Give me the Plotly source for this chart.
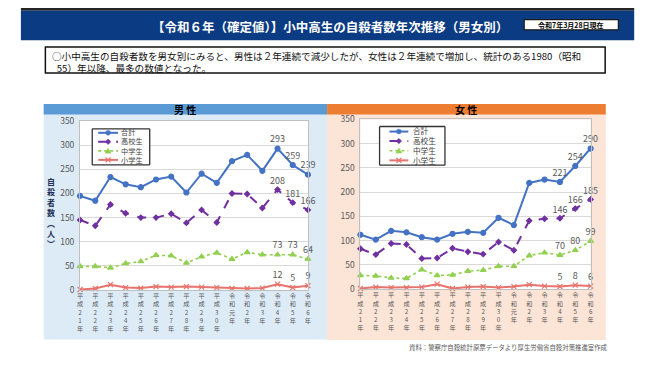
import plotly.graph_objects as go

W, H = 650, 366
OFF = 8  # default page body margin in the browser
FONT = "Noto Sans CJK JP"

years = ["平成21年", "平成22年", "平成23年", "平成24年", "平成25年", "平成26年", "平成27年",
         "平成28年", "平成29年", "平成30年", "令和元年", "令和2年", "令和3年", "令和4年",
         "令和5年", "令和6年"]
series_names = ["合計", "高校生", "中学生", "小学生"]

# 男性
total_m = [195, 185, 234, 219, 213, 229, 235, 202, 241, 222, 267, 280, 247, 293, 259, 239]
high_m = [145, 133, 177, 159, 150, 150, 158, 139, 166, 140, 200, 199, 170, 208, 181, 166]
mid_m = [49, 49, 46, 55, 59, 72, 71, 56, 69, 77, 64, 78, 73, 73, 73, 64]
elem_m = [1, 3, 11, 5, 4, 7, 6, 7, 6, 5, 3, 3, 4, 12, 5, 9]

# 女性
total_f = [112, 102, 120, 117, 107, 102, 114, 118, 116, 147, 132, 219, 226, 221, 254, 290]
high_f = [83, 71, 94, 92, 63, 64, 84, 77, 72, 97, 80, 141, 145, 146, 166, 185]
mid_f = [28, 27, 23, 22, 40, 28, 29, 37, 39, 47, 47, 69, 75, 70, 80, 99]
elem_f = [1, 4, 3, 3, 4, 10, 1, 4, 5, 3, 5, 9, 6, 5, 8, 6]

colors = ["#4472C4", "#7030A0", "#92D050", "#E8736C"]
dashes = ["solid", "dash", "dot", "solid"]
symbols = ["circle", "diamond", "triangle-up", "x-thin-open"]
msizes = [5, 4, 5, 5]
widths = [2, 2, 1.6, 2]


def px(x):
    return (x - OFF) / W


def py(y):
    return 1 - (y - OFF) / H


fig = go.Figure()

male = [total_m, high_m, mid_m, elem_m]
female = [total_f, high_f, mid_f, elem_f]
for vals_list, xa, ya in [(male, "x", "y"), (female, "x2", "y2")]:
    for k, vals in enumerate(vals_list):
        n = len(vals)
        labels = [str(v) if i >= n - 3 else "" for i, v in enumerate(vals)]
        fig.add_trace(go.Scatter(
            x=years, y=vals, name=series_names[k], xaxis=xa, yaxis=ya,
            mode="lines+markers+text", text=labels, textposition="top center",
            textfont=dict(family=FONT, size=9, color="#595959"),
            line=dict(color=colors[k], width=widths[k], dash=dashes[k]),
            marker=dict(color=colors[k], size=msizes[k], symbol=symbols[k],
                        line=dict(color=colors[k], width=1.2)),
            cliponaxis=False, showlegend=False, hoverinfo="skip"))

ticktext = ["<br>".join(list(s)) for s in years]

xcommon = dict(type="category", range=[0, len(years) - 1], tickvals=years, ticktext=ticktext,
               tickfont=dict(family=FONT, size=6.2, color="#595959"), showgrid=False,
               showline=True, linecolor="#BFBFBF", linewidth=1, mirror=True, ticks="",
               fixedrange=True)
ycommon = dict(range=[0, 350], dtick=50, tickfont=dict(family=FONT, size=8.5, color="#595959"),
               showgrid=True, gridcolor="#D9D9D9", gridwidth=1, zeroline=False,
               showline=True, linecolor="#BFBFBF", linewidth=1, mirror=True, ticks="",
               ticklabelstandoff=3, fixedrange=True)

L = dict(x0=77.7, x1=307.7, y0=117.7, y1=292.3)
R = dict(x0=360.7, x1=593.0, y0=116.0, y1=291.3)

fig.update_layout(
    width=W, height=H, margin=dict(l=0, r=0, t=0, b=0),
    paper_bgcolor="white", plot_bgcolor="rgba(0,0,0,0)",
    xaxis=dict(domain=[px(L["x0"]), px(L["x1"])], anchor="y", **xcommon),
    yaxis=dict(domain=[py(L["y1"]), py(L["y0"])], anchor="x", **ycommon),
    xaxis2=dict(domain=[px(R["x0"]), px(R["x1"])], anchor="y2", **xcommon),
    yaxis2=dict(domain=[py(R["y1"]), py(R["y0"])], anchor="x2", **ycommon),
    font=dict(family=FONT),
    showlegend=False,
)

shapes = []
annos = []


def rect(x0, y0, x1, y1, fill, line_color=None, lw=0, layer="below"):
    shapes.append(dict(type="rect", xref="paper", yref="paper",
                       x0=px(x0), x1=px(x1), y0=py(y1), y1=py(y0),
                       fillcolor=fill, layer=layer,
                       line=dict(color=line_color or fill, width=lw)))


def hline(x0, x1, y, color, width, dash="solid"):
    shapes.append(dict(type="line", xref="paper", yref="paper", layer="above",
                       x0=px(x0), x1=px(x1), y0=py(y), y1=py(y),
                       line=dict(color=color, width=width, dash=dash)))


def vline(x, y0, y1, color, width):
    shapes.append(dict(type="line", xref="paper", yref="paper", layer="above",
                       x0=px(x), x1=px(x), y0=py(y0), y1=py(y1),
                       line=dict(color=color, width=width)))


def text(x, y, s, size, color="#000000", bold=False, xanchor="center", yanchor="middle",
         align="center"):
    annos.append(dict(xref="paper", yref="paper", x=px(x), y=py(y), text=s,
                      showarrow=False, xanchor=xanchor, yanchor=yanchor, align=align,
                      borderpad=0,
                      font=dict(family=FONT, size=size, color=color,
                                weight="bold" if bold else "normal")))


# Title band
rect(18, 0, 637, 3.6, "#262626")
rect(18, 3.6, 637, 34, "#0B3B82")
text(330, 19.5, "【令和６年（確定値）】小中高生の自殺者数年次推移（男女別）", 12.5, "#FFFFFF", bold=True)
rect(526, 12.7, 621, 23.3, "#FFFFFF", "#1A1A1A", 1.2)
text(573.5, 18.2, "令和7年3月28日現在", 7, "#000000", bold=True)

# Summary box
rect(42.7, 41, 607.7, 68, "#FFFFFF", "#111111", 1.5)
text(48.5, 56.5,
     "○小中高生の自殺者数を男女別にみると、男性は２年連続で減少したが、女性は２年連続で増加し、統計のある1980（昭和"
     "<br>\u200255）年以降、最多の数値となった。",
     9.6, "#111111", xanchor="left", align="left")

# Panels
rect(41, 100, 327, 343.5, "#DDEBF7")
rect(327, 100, 608.3, 344, "#FCE4D6")
rect(41, 100, 327, 111, "#5B9BD5")
rect(327, 100, 608.3, 111, "#ED7D31")
text(184, 105.8, "男 性", 10, "#000000", bold=True)
text(467.5, 105.8, "女 性", 10, "#000000", bold=True)

# Plot area backgrounds
rect(L["x0"], L["y0"], L["x1"], L["y1"], "#FFFFFF")
rect(R["x0"], R["y0"], R["x1"], R["y1"], "#FFFFFF")

# Y-axis title (left)
text(48.5, 212.5, "自<br>殺<br>者<br>数<br>︵<br>人<br>︶", 8, "#1F2F55", bold=True)

# Footnote
text(612, 351.5, "資料：警察庁自殺統計原票データより厚生労働省自殺対策推進室作成", 6.4, "#595959", xanchor="right")


def legend(x0, y0, x1, y1, rows, lx0, lx1, tx, fsize):
    # white fill (covers gridlines) + frame of four lines
    shapes.append(dict(type="rect", xref="paper", yref="paper", layer="above",
                       x0=px(x0), x1=px(x1), y0=py(y1), y1=py(y0),
                       fillcolor="#FFFFFF", line=dict(width=0)))
    fc, fw = "#333333", 1.3
    hline(x0, x1, y0, fc, fw)
    hline(x0, x1, y1, fc, fw)
    vline(x0, y0, y1, fc, fw)
    vline(x1, y0, y1, fc, fw)
    mx = (lx0 + lx1) / 2
    for k, ry in enumerate(rows):
        hline(lx0, lx1, ry, colors[k], widths[k], dashes[k])
        c = colors[k]
        if k == 0:
            shapes.append(dict(type="circle", xref="paper", yref="paper", layer="above",
                               x0=px(mx - 2.5), x1=px(mx + 2.5), y0=py(ry + 2.5), y1=py(ry - 2.5),
                               fillcolor=c, line=dict(color=c, width=0.5)))
        elif k == 1:
            p = f"M {px(mx)},{py(ry-2.8)} L {px(mx+2.8)},{py(ry)} L {px(mx)},{py(ry+2.8)} L {px(mx-2.8)},{py(ry)} Z"
            shapes.append(dict(type="path", xref="paper", yref="paper", layer="above",
                               path=p, fillcolor=c, line=dict(color=c, width=0.5)))
        elif k == 2:
            p = f"M {px(mx-3)},{py(ry+2.4)} L {px(mx+3)},{py(ry+2.4)} L {px(mx)},{py(ry-2.8)} Z"
            shapes.append(dict(type="path", xref="paper", yref="paper", layer="above",
                               path=p, fillcolor=c, line=dict(color=c, width=0.5)))
        else:
            for a, b in [(-2.5, 2.5), (2.5, -2.5)]:
                shapes.append(dict(type="line", xref="paper", yref="paper", layer="above",
                                   x0=px(mx - 2.5), x1=px(mx + 2.5), y0=py(ry + a), y1=py(ry + b),
                                   line=dict(color=c, width=1.2)))
    cy = (rows[0] + rows[-1]) / 2
    text(tx, cy, "<br>".join(series_names), fsize, "#404040", xanchor="left", align="left")


legend(90, 125.7, 148, 163, [129.8, 139.1, 148.5, 157.8], 96, 116, 118.5, 7.2)
legend(380, 123.3, 446, 163.3, [128.5, 138.4, 148.4, 158.3], 390, 409, 412.5, 7.6)

fig.update_layout(shapes=shapes, annotations=annos)
fig.write_html("out.html")
